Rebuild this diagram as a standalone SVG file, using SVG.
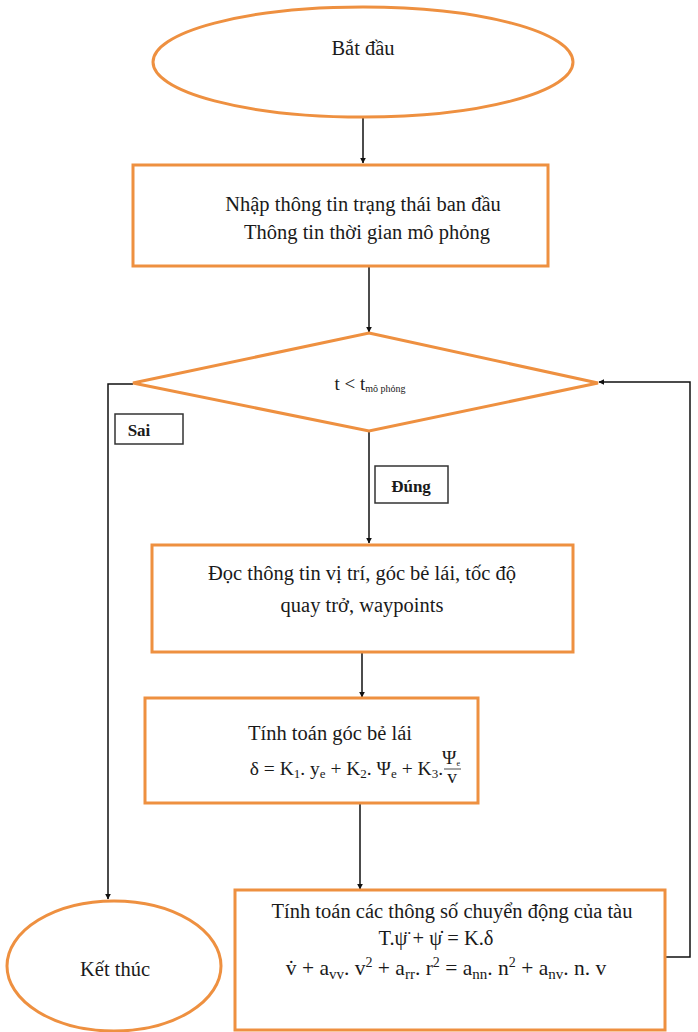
<svg xmlns="http://www.w3.org/2000/svg" width="698" height="1032" viewBox="0 0 698 1032">
<defs>
<marker id="ah" viewBox="0 0 10 10" refX="9" refY="5" markerWidth="6" markerHeight="6" orient="auto" markerUnits="userSpaceOnUse">
<path d="M0,0 L10,5 L0,10 z" fill="#111"/>
</marker>
<style>
.sh{fill:#fff;stroke:#ee9040;stroke-width:3}
.lb{fill:#fff;stroke:#333;stroke-width:1.5}
.t{font-size:20.5px;fill:#1a1a1a;text-anchor:middle}
.m{font-size:19.5px;fill:#1a1a1a}
.c{fill:none;stroke:#111;stroke-width:1.5}
</style>
</defs>
<rect width="698" height="1032" fill="#fff"/>
<g id="connectors">
<line class="c" x1="363" y1="117" x2="363" y2="163" marker-end="url(#ah)"/>
<line class="c" x1="369" y1="266" x2="369" y2="332" marker-end="url(#ah)"/>
<line class="c" x1="369" y1="430" x2="369" y2="543" marker-end="url(#ah)"/>
<line class="c" x1="362" y1="652" x2="362" y2="697" marker-end="url(#ah)"/>
<line class="c" x1="360" y1="803" x2="360" y2="889" marker-end="url(#ah)"/>
<polyline class="c" points="133,384 108,384 108,899" marker-end="url(#ah)"/>
<polyline class="c" points="665,957 690,957 690,382 599,382" marker-end="url(#ah)"/>
</g>
<g font-family="Liberation Serif, DejaVu Serif, serif">
<g id="start">
<ellipse class="sh" cx="363" cy="62" rx="210" ry="55"/>
<text class="t" x="363" y="55">Bắt đầu</text>
</g>
<g id="input">
<rect class="sh" x="133" y="165" width="415" height="101"/>
<text class="t" x="363" y="211">Nhập thông tin trạng thái ban đầu</text>
<text class="t" x="367" y="239">Thông tin thời gian mô phỏng</text>
</g>
<g id="decision">
<polygon class="sh" points="369,333 598,383 369,431 133,383"/>
<text class="t" x="370" y="390" style="font-size:19px">t &lt; t<tspan font-size="10" dy="2">mô phỏng</tspan></text>
</g>
<g id="label-sai">
<rect class="lb" x="115" y="414" width="68" height="30"/>
<text class="t" x="139" y="436" style="font-weight:bold;font-size:17px">Sai</text>
</g>
<g id="label-dung">
<rect class="lb" x="375" y="466" width="73" height="37"/>
<text class="t" x="411" y="492" style="font-weight:bold;font-size:17px">Đúng</text>
</g>
<g id="read">
<rect class="sh" x="152" y="545" width="421" height="107"/>
<text class="t" x="362" y="580">Đọc thông tin vị trí, góc bẻ lái, tốc độ</text>
<text class="t" x="362" y="612">quay trở, waypoints</text>
</g>
<g id="steer">
<rect class="sh" x="145" y="698" width="333" height="105"/>
<text class="t" x="330" y="740">Tính toán góc bẻ lái</text>
<text class="m" x="443" y="775" text-anchor="end">δ = K<tspan font-size="13" dy="3">1</tspan><tspan dy="-3">. y</tspan><tspan font-size="13" dy="3">e</tspan><tspan dy="-3"> + K</tspan><tspan font-size="13" dy="3">2</tspan><tspan dy="-3">. Ψ</tspan><tspan font-size="13" dy="3">e</tspan><tspan dy="-3"> + K</tspan><tspan font-size="13" dy="3">3</tspan><tspan dy="-3">.</tspan></text>
<text class="m" x="451" y="764" font-size="12" text-anchor="middle">Ψ<tspan font-size="8" dy="2">e</tspan></text>
<line x1="444" y1="769" x2="461" y2="769" stroke="#1a1a1a" stroke-width="0.8"/>
<text class="m" x="452" y="783" font-size="12" text-anchor="middle">v</text>
</g>
<g id="motion">
<rect class="sh" x="235" y="890" width="430" height="140"/>
<text class="t" x="452" y="918">Tính toán các thông số chuyển động của tàu</text>
<text class="t" x="436" y="945">T.ψ̈ + ψ̇  =  K.δ</text>
<text class="t" x="446" y="975" style="font-size:21.5px">v̇ + a<tspan font-size="15" dy="4">vv</tspan><tspan dy="-4">. v</tspan><tspan font-size="14" dy="-8">2</tspan><tspan dy="8"> + a</tspan><tspan font-size="15" dy="4">rr</tspan><tspan dy="-4">. r</tspan><tspan font-size="14" dy="-8">2</tspan><tspan dy="8"> = a</tspan><tspan font-size="15" dy="4">nn</tspan><tspan dy="-4">. n</tspan><tspan font-size="14" dy="-8">2</tspan><tspan dy="8"> + a</tspan><tspan font-size="15" dy="4">nv</tspan><tspan dy="-4">. n. v</tspan></text>
</g>
<g id="end">
<ellipse class="sh" cx="114" cy="966" rx="107" ry="65"/>
<text class="t" x="115" y="976">Kết thúc</text>
</g>
</g>
</svg>
